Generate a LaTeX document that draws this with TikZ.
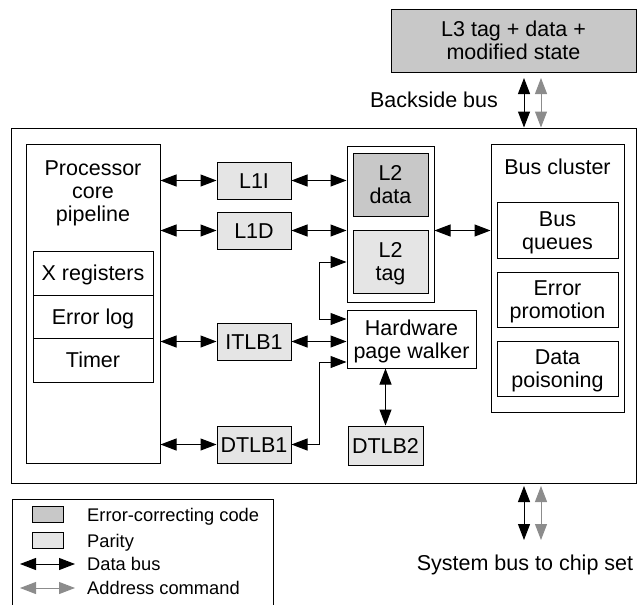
\documentclass[tikz,border=0pt]{standalone}
\usepackage{fontspec}
\setmainfont{Liberation Sans}
\usetikzlibrary{arrows.meta}
\definecolor{ecc}{RGB}{200,200,200}
\definecolor{par}{RGB}{229,229,229}
\definecolor{addr}{RGB}{140,140,140}
\newcommand{\mainf}{\fontsize{21.5}{23}\selectfont}
\newcommand{\legf}{\fontsize{18.3}{21}\selectfont}
\begin{document}
\begin{tikzpicture}[x=1pt,y=-1pt,
  box/.style={draw, line width=1pt, inner sep=0pt, align=center, font=\mainf,
    text height=15.4pt, text depth=0pt},
  two/.style={text height=38.4pt},
  three/.style={text height=61.4pt},
  txt/.style={inner sep=0pt, align=center, font=\mainf, text height=15.4pt, text depth=0pt},
  legtxt/.style={inner sep=0pt, anchor=west, font=\legf, text height=13.1pt, text depth=0pt},
  eccbox/.style={box, fill=ecc},
  parbox/.style={box, fill=par},
  dbus/.style={line width=1pt, {Triangle[length=16pt,width=12pt]}-{Triangle[length=16pt,width=12pt]}},
  abus/.style={dbus, draw=addr, fill=addr}
]
\useasboundingbox (0,0) rectangle (638,605);

% outer chip box
\node[box, minimum width=625pt, minimum height=355pt] (main) at (323.5,305.5) {};
% L3
\node[eccbox, two, minimum width=245pt, minimum height=63pt] (L3) at (513.5,40.5) {L3 tag + data +\\modified state};
\node[txt] (bstxt) at (434,100) {Backside bus};

% processor core
\node[box, minimum width=134pt, minimum height=319pt] (core) at (93,303.5) {};
\node[txt, three] (coretxt) at (93,191) {Processor\\core\\pipeline};
\node[box, minimum width=120pt, minimum height=44pt] (xreg) at (93,273) {X registers};
\node[box, minimum width=120pt, minimum height=43pt] (elog) at (93,316.5) {Error log};
\node[box, minimum width=120pt, minimum height=44pt] (timer) at (93,360) {Timer};

% L1 / TLB1
\node[parbox, minimum width=74pt, minimum height=37pt] (L1I) at (254,180.5) {L1I};
\node[parbox, minimum width=74pt, minimum height=37pt] (L1D) at (254,230.5) {L1D};
\node[parbox, minimum width=74pt, minimum height=37pt] (ITLB1) at (254,341.5) {ITLB1};
\node[parbox, minimum width=74pt, minimum height=37pt] (DTLB1) at (254,444.5) {DTLB1};

% L2
\node[box, minimum width=87pt, minimum height=156pt] (L2) at (390.5,224) {};
\node[eccbox, two, minimum width=75pt, minimum height=63pt] (L2data) at (390.5,184.5) {L2\\data};
\node[parbox, two, minimum width=75pt, minimum height=63pt] (L2tag) at (390.5,261.5) {L2\\tag};

% page walker / DTLB2
\node[box, two, minimum width=129pt, minimum height=58pt] (HPW) at (411.5,339) {Hardware\\page walker};
\node[parbox, minimum width=75pt, minimum height=39pt] (DTLB2) at (385.5,445.5) {DTLB2};

% bus cluster
\node[box, minimum width=133pt, minimum height=268pt] (bus) at (557.5,278) {};
\node[txt] (bustxt) at (557.5,167) {Bus cluster};
\node[box, two, minimum width=121pt, minimum height=56pt] (bq) at (557.5,230) {Bus\\queues};
\node[box, two, minimum width=121pt, minimum height=55pt] (ep) at (557.5,299.5) {Error\\promotion};
\node[box, two, minimum width=121pt, minimum height=55pt] (dp) at (557.5,368.5) {Data\\poisoning};

% connectors
\draw[dbus] (core.east |- L1I.west) -- (L1I.west);
\draw[dbus] (L1I.east) -- (L2.west |- L1I.east);
\draw[dbus] (core.east |- L1D.west) -- (L1D.west);
\draw[dbus] (L1D.east) -- (L2.west |- L1D.east);
\draw[dbus] (L2.east |- L1D.east) -- (bus.west |- L1D.east);
\draw[dbus] (core.east |- ITLB1.west) -- (ITLB1.west);
\draw[dbus] (ITLB1.east) -- (HPW.west |- ITLB1.east);
\draw[dbus] (core.east |- DTLB1.west) -- (DTLB1.west);
\coordinate (j1) at (319,262);
\coordinate (j2) at (319,319);
\coordinate (j3) at (319,444.5);
\coordinate (j4) at (319,362);
\draw[dbus] (L2.west |- j1) -- (j1) -- (j2) -- (HPW.west |- j2);
\draw[dbus] (DTLB1.east) -- (j3) -- (j4) -- (HPW.west |- j4);
\draw[dbus] (HPW.south -| DTLB2.north) -- (DTLB2.north);

% backside bus
\coordinate (bbd) at (524,78);
\coordinate (bba) at (541,78);
\draw[dbus] (bbd) -- (bbd |- main.north);
\draw[abus] (bba) -- (bba |- main.north);

% system bus
\coordinate (sbd) at (524,486);
\coordinate (sba) at (541,486);
\coordinate (sbd2) at (524,540);
\coordinate (sba2) at (541,540);
\draw[dbus] (sbd) -- (sbd2);
\draw[abus] (sba) -- (sba2);
\node[txt] (sbtxt) at (525,563) {System bus to chip set};

% legend
\draw[line width=1pt] (12,606) -- (12,499) -- (273,499) -- (273,606);
\node[eccbox, minimum width=31pt, minimum height=11pt] (legecc) at (47.5,514.5) {};
\node[parbox, minimum width=31pt, minimum height=11pt] (legpar) at (47.5,540.5) {};
\node[legtxt] (legecct) at (87,514.5) {Error-correcting code};
\node[legtxt] (legpart) at (87,540.5) {Parity};
\coordinate (ld1) at (20,564);
\coordinate (ld2) at (75,564);
\coordinate (la1) at (20,588);
\coordinate (la2) at (75,588);
\draw[dbus] (ld1) -- (ld2);
\draw[abus] (la1) -- (la2);
\node[legtxt] (legdt) at (87,564) {Data bus};
\node[legtxt] (legat) at (87,588) {Address command};
\end{tikzpicture}
\end{document}
